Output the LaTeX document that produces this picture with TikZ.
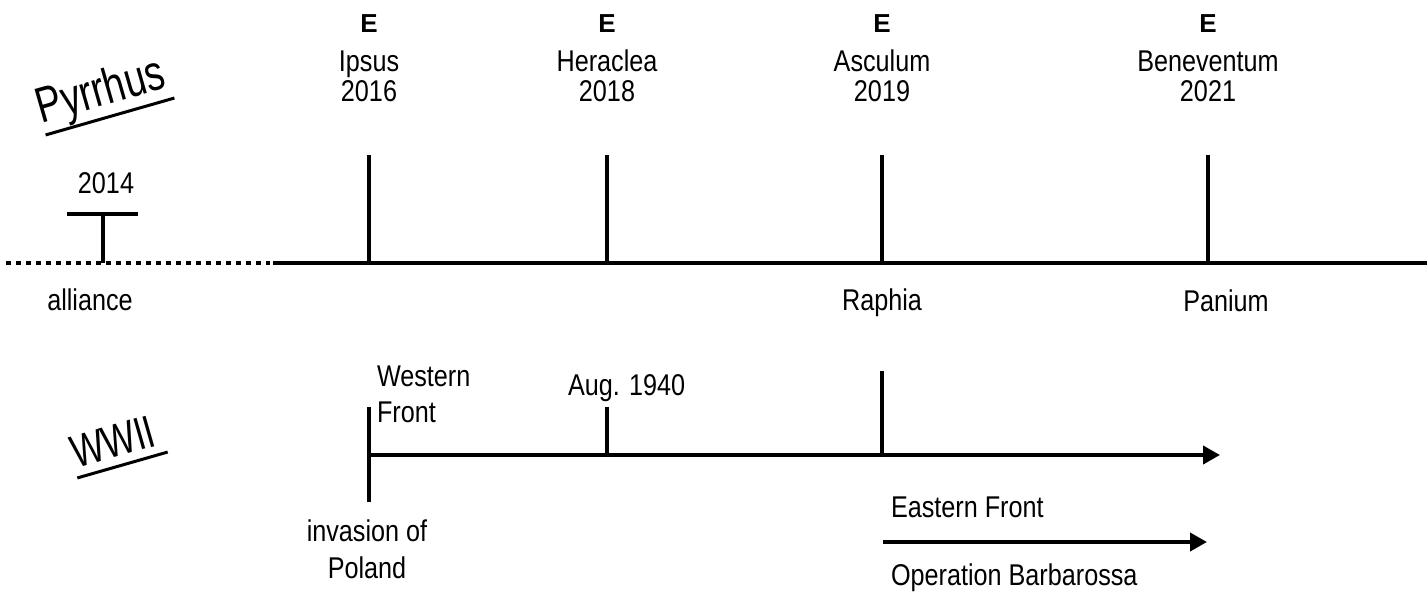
\documentclass[tikz,border=0pt]{standalone}
\usepackage{fontspec}
\setmainfont{Liberation Sans}[FakeStretch=0.84]
\newfontfamily\widefont{Liberation Sans}
\newfontfamily\narrowfont{Liberation Sans}[FakeStretch=0.76]
\usetikzlibrary{arrows.meta}
\begin{document}
\begin{tikzpicture}[x=1pt,y=-1pt, line width=4pt,
  lbl/.style={inner sep=0pt, anchor=base, font=\fontsize{30}{36}\selectfont},
  elbl/.style={inner sep=0pt, anchor=base, font=\widefont\bfseries\fontsize{26}{30}\selectfont},
  title/.style={inner sep=0pt, anchor=base, rotate=16},
  arr/.style={-{Triangle[length=17pt,width=18pt]}},
  dotline/.style={dash pattern=on 5pt off 5pt}]
\useasboundingbox (0,0) rectangle (1427,594);

% ---------- Pyrrhus timeline ----------
\foreach \x/\n/\place/\yr in {369/a/Ipsus/2016, 607/b/Heraclea/2018, 882/c/Asculum/2019, 1208/d/Beneventum/2021} {
  \node[elbl] (e\n) at (\x,33) {E};
  \node[lbl] (p\n) at (\x,71) {\place};
  \node[lbl] (y\n) at (\x,102) {\yr};
  \coordinate (t\n) at (\x,155);
  \coordinate (b\n) at (\x,263);
  \draw (t\n) -- (b\n);
}
\coordinate (dstart) at (6,263);
\coordinate (dend) at (270,263);
\coordinate (sstart) at (273,263);
\coordinate (send) at (1427,263);
\draw[dotline] (dstart) -- (dend);
\draw (sstart) -- (send);

\coordinate (tl) at (67,214);
\coordinate (tr) at (138,214);
\coordinate (tm) at (103,214);
\coordinate (tb) at (103,263);
\draw (tl) -- (tr);
\draw (tm) -- (tb);
\node[lbl] (y2014) at (106,193) {2014};
\node[lbl] (alliance) at (90,310) {alliance};
\node[lbl] (raphia) at (882,310) {Raphia};
\node[lbl] (panium) at (1226,311) {Panium};

\begin{scope}[shift={(110,116.5)}, rotate=16]
  \coordinate (pu1) at (-67,0);
  \coordinate (pu2) at (67,0);
  \draw[line width=3pt] (pu1) -- (pu2);
  \node[title, font=\narrowfont\fontsize{50}{56}\selectfont] (pyrrhus) at (-2,-12) {Pyrrhus};
\end{scope}

% ---------- WWII timeline ----------
\coordinate (w0) at (369,455);
\coordinate (wend) at (1220,455);
\draw[arr] (w0) -- (wend);
\coordinate (wt) at (369,407);
\coordinate (wb) at (369,502);
\draw (wt) -- (wb);
\coordinate (augt) at (607,407);
\coordinate (augb) at (607,455);
\draw (augt) -- (augb);
\coordinate (ext) at (882,371);
\coordinate (exb) at (882,455);
\draw (ext) -- (exb);

\node[lbl, align=left, anchor=north west, font=\fontsize{30}{36}\selectfont] (western) at (375,364) {Western\\Front};
\node[lbl, anchor=base west] (aug) at (566,395) {Aug. 1940};
\node[lbl, align=center, anchor=north, font=\fontsize{30}{37}\selectfont] (poland) at (367,518) {invasion of\\Poland};

\coordinate (e0) at (883,542);
\coordinate (e1) at (1207,542);
\draw[arr] (e0) -- (e1);
\node[lbl, anchor=base west] (eastern) at (889,517) {Eastern Front};
\node[lbl, anchor=base west] (barb) at (889,585) {Operation Barbarossa};

\begin{scope}[shift={(122.5,465)}, rotate=16]
  \coordinate (wu1) at (-47,0);
  \coordinate (wu2) at (47,0);
  \draw[line width=3pt] (wu1) -- (wu2);
  \node[title, font=\narrowfont\fontsize{46}{52}\selectfont] (wwii) at (-3,-9) {WWII};
\end{scope}
\end{tikzpicture}
\end{document}
